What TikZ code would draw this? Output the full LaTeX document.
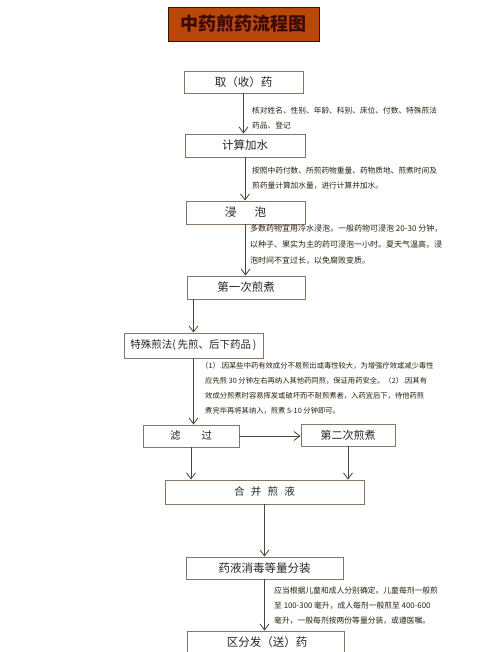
\documentclass[tikz,border=0pt]{standalone}
\usepackage{fontspec}
\setmainfont{Noto Sans CJK SC}
\usetikzlibrary{arrows.meta}
\definecolor{boxline}{HTML}{857565}
\definecolor{arrowc}{HTML}{4A4540}
\definecolor{notec}{HTML}{2A2010}
\definecolor{titlefill}{HTML}{B9470A}
\definecolor{titletext}{HTML}{3C0A04}
\tikzset{
  flowbox/.style={draw=boxline, line width=0.9pt, fill=white, text=black!85, inner sep=0pt, font=\fontsize{11.5}{13}\selectfont},
  flowarrow/.style={draw=arrowc, line width=0.8pt, -{Straight Barb[length=6pt,width=9pt]}},
  notetext/.style={anchor=north west, align=left, text=notec, inner sep=0pt, font=\fontsize{7.7}{15}\selectfont},
}
\begin{document}
\begin{tikzpicture}[x=1pt,y=-1pt]
\useasboundingbox (0,0) rectangle (500,652);
\fill[white] (0,0) rectangle (500,652);
% title
\node[draw=black!70!titlefill, line width=0.8pt, fill=titlefill, text=titletext, minimum width=151pt, minimum height=34pt, inner sep=0pt, font=\fontsize{18}{20}\selectfont\bfseries] (title) at (243.5,24) {中药煎药流程图};
% boxes
\node[flowbox, minimum width=119pt, minimum height=22pt] (qu) at (243.5,82) {取（收）药};
\node[flowbox, minimum width=120pt, minimum height=23pt] (jisuan) at (245,145.5) {计算加水};
\node[flowbox, minimum width=119pt, minimum height=23pt] (jinpao) at (245.5,212.5) {浸\hspace{1.6em}泡};
\node[flowbox, minimum width=118pt, minimum height=23pt] (diyi) at (246,287.5) {第一次煎煮};
\node[flowbox, minimum width=139pt, minimum height=25pt, font=\fontsize{10.5}{12}\selectfont] (teshu) at (193.5,345.5) {特殊煎法(\,先煎、后下药品\,)};
\node[flowbox, minimum width=96pt, minimum height=22pt, font=\fontsize{10.5}{12}\selectfont] (lvguo) at (191,436) {滤\hspace{2em}过};
\node[flowbox, minimum width=94pt, minimum height=22pt, font=\fontsize{11}{12}\selectfont] (dier) at (348,435) {第二次煎煮};
\node[flowbox, minimum width=199pt, minimum height=24pt, font=\fontsize{10.5}{12}\selectfont] (hebing) at (264.5,492) {合\hspace{0.6em}并\hspace{0.6em}煎\hspace{0.6em}液};
\node[flowbox, minimum width=157pt, minimum height=22pt] (yaoye) at (264.5,568) {药液消毒等量分装};
\node[flowbox, minimum width=157pt, minimum height=28pt] (qufen) at (265.5,645) {};
\node[text=black!85, font=\fontsize{11.5}{13}\selectfont, inner sep=0pt] (qufentext) at (267,642.5) {区分发（送）药};
% arrows
\draw[flowarrow] (qu.south) -- (qu.south |- jisuan.north);
\draw[flowarrow] (jisuan.south) -- (jisuan.south |- jinpao.north);
\draw[flowarrow] (jinpao.south) -- (jinpao.south |- diyi.north);
\draw[flowarrow] (diyi.south -| teshu.north) -- (teshu.north);
\draw[flowarrow] (teshu.south) -- (teshu.south |- lvguo.north);
\draw[flowarrow] (lvguo.east) -- (dier.west |- lvguo.east);
\draw[flowarrow] (lvguo.south) -- (lvguo.south |- hebing.north);
\draw[flowarrow] (dier.south) -- (dier.south |- hebing.north);
\draw[flowarrow] (hebing.south) -- (hebing.south |- yaoye.north);
\draw[flowarrow] (yaoye.south) -- (yaoye.south |- qufen.north);
% notes
\node[notetext] (n1) at (252,107) {核对姓名、性别、年龄、科别、床位、付数、特殊煎法\\药品、登记};
\node[notetext] (n2) at (252,167) {按照中药付数、所煎药物重量、药物质地、煎煮时间及\\煎药量计算加水量，进行计算并加水。};
\node[notetext, font=\fontsize{8}{16}\selectfont] (n3) at (250,225) {多数药物宜用冷水浸泡，一般药物可浸泡 20-30 分钟，\\以种子、果实为主的药可浸泡一小时。夏天气温高，浸\\泡时间不宜过长，以免腐败变质。};
\node[notetext, font=\fontsize{7.3}{15}\selectfont] (n4) at (201,362) {（1）.因某些中药有效成分不易煎出或毒性较大，为增强疗效或减少毒性\\\hspace*{4pt}应先煎 30 分钟左右再纳入其他药同煎，保证用药安全。（2）.因其有\\\hspace*{4pt}效成分煎煮时容易挥发或破坏而不耐煎煮者，入药宜后下，待他药煎\\\hspace*{4pt}煮完毕再将其纳入，煎煮 5-10 分钟即可。};
\node[notetext, font=\fontsize{7.8}{15}\selectfont] (n5) at (274,587) {应当根据儿童和成人分别确定。儿童每剂一般煎\\至 100-300 毫升，成人每剂一般煎至 400-600\\毫升，一般每剂按两份等量分装，或遵医嘱。};
\end{tikzpicture}
\end{document}
